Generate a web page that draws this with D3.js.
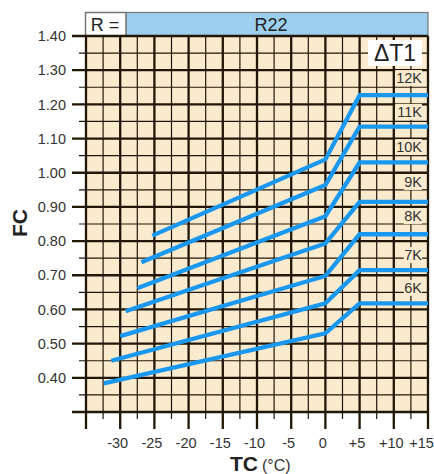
<!DOCTYPE html>
<html>
<head>
<meta charset="utf-8">
<script src="https://cdn.jsdelivr.net/npm/d3@7"></script>
<style>
body { margin: 0; background: #fff; }
text { font-family: "Liberation Sans", Arial, sans-serif; fill: #333; }
</style>
</head>
<body>
<script>
var w = 434, h = 474;

// data
var refrigerant = "R22";
var dtLabels = ["12K", "11K", "10K", "9K", "8K", "7K", "6K"];
var startTC = [-25.3, -26.9, -27.5, -29.2, -30.0, -31.3, -32.4];
var startFC = [0.816, 0.738, 0.662, 0.595, 0.522, 0.450, 0.384];
var zeroFC  = [1.039, 0.964, 0.873, 0.793, 0.698, 0.618, 0.530];
var plusFiveFC = [1.227, 1.135, 1.030, 0.915, 0.820, 0.715, 0.618];
var xTicks = [-30, -25, -20, -15, -10, -5, 0, 5, 10, 15];
var yTicks = [0.40, 0.50, 0.60, 0.70, 0.80, 0.90, 1.00, 1.10, 1.20, 1.30, 1.40];
// label centres (FC) for the dT1 tags
var labelFC = [1.277, 1.178, 1.075, 0.973, 0.873, 0.759, 0.663];

var x = d3.scaleLinear().domain([-35, 15]).range([86, 428]);
var y = d3.scaleLinear().domain([0.30, 1.40]).range([412, 36]);

var svg = d3.select("body").append("svg")
    .attr("width", w)
    .attr("height", h);

// header
svg.append("rect").attr("x", 126).attr("y", 12.5).attr("width", 302).attr("height", 23.5)
    .attr("fill", "#9dcfee").attr("stroke", "#777").attr("stroke-width", 1.2);
svg.append("rect").attr("x", 85.5).attr("y", 12.5).attr("width", 40.5).attr("height", 23.5)
    .attr("fill", "#fff").attr("stroke", "#777").attr("stroke-width", 1.5);
svg.append("text").attr("x", 105).attr("y", 31).attr("text-anchor", "middle")
    .style("font-size", "18px").style("fill", "#222").text("R =");
svg.append("text").attr("x", 271).attr("y", 31).attr("text-anchor", "middle")
    .style("font-size", "18px").style("fill", "#222").text(refrigerant);

// plot background
svg.append("rect").attr("x", x(-35)).attr("y", y(1.40))
    .attr("width", x(15) - x(-35)).attr("height", y(0.30) - y(1.40))
    .attr("fill", "#faebcf");

var grid = svg.append("g").attr("stroke", "#221606");
var minorX = d3.range(-32.5, 15, 5);
var minorY = d3.range(0.35, 1.40, 0.1);
var majorX = d3.range(-35, 15.1, 5);
var majorY = d3.range(0.30, 1.401, 0.1);

grid.selectAll(".mx").data(minorX).enter().append("line")
    .attr("x1", d => x(d)).attr("x2", d => x(d))
    .attr("y1", y(1.40)).attr("y2", y(0.30) + 7)
    .attr("stroke-width", 1.2);
grid.selectAll(".my").data(minorY).enter().append("line")
    .attr("y1", d => y(d)).attr("y2", d => y(d))
    .attr("x1", x(-35) - 7).attr("x2", x(15))
    .attr("stroke-width", 1.2);
grid.selectAll(".Mx").data(majorX).enter().append("line")
    .attr("x1", d => x(d)).attr("x2", d => x(d))
    .attr("y1", y(1.40)).attr("y2", y(0.30) + 17)
    .attr("stroke-width", 2.3);
grid.selectAll(".My").data(majorY).enter().append("line")
    .attr("y1", d => y(d)).attr("y2", d => y(d))
    .attr("x1", x(-35) - 14).attr("x2", x(15))
    .attr("stroke-width", 2.3);

// axes (labels only)
var yAxis = svg.append("g").attr("transform", "translate(" + (x(-35) - 17) + ",0)")
    .call(d3.axisLeft(y).tickValues(yTicks).tickSize(0).tickFormat(d3.format(".2f")));
var xAxis = svg.append("g").attr("transform", "translate(0," + (y(0.30) + 23) + ")")
    .call(d3.axisBottom(x).tickValues(xTicks).tickSize(0)
        .tickFormat(d => d > 0 ? "+" + d : String(d)));
[yAxis, xAxis].forEach(function(a) {
    a.select(".domain").remove();
    a.selectAll("text").attr("fill", "#333")
        .style("font-size", "14.5px").style("font-family", "'Liberation Sans', Arial, sans-serif");
});
xAxis.selectAll("text").attr("dx", d => d === 15 ? -7 : -3);

// dT1 box and labels
svg.append("rect").attr("x", 368).attr("y", 40).attr("width", 54).attr("height", 26).attr("fill", "#fff");
svg.append("text").attr("x", 395).attr("y", 61).attr("text-anchor", "middle")
    .style("font-size", "23px").style("fill", "#222").text("\u0394T1");
var tags = svg.append("g").selectAll("g").data(dtLabels).enter().append("g")
    .attr("transform", (d, i) => "translate(422," + y(labelFC[i]) + ")");
tags.append("rect")
    .attr("x", d => -d.length * 8.6 - 1).attr("y", -8)
    .attr("width", d => d.length * 8.6 + 1).attr("height", 16)
    .attr("fill", "#faebcf");
tags.append("text")
    .attr("y", 5)
    .attr("text-anchor", "end")
    .style("font-size", "14.5px")
    .text(d => d);

// curves
var line = d3.line().x(d => x(d[0])).y(d => y(d[1]));
var curves = dtLabels.map(function(k, i) {
    return [[startTC[i], startFC[i]], [0, zeroFC[i]], [5, plusFiveFC[i]], [15, plusFiveFC[i]]];
});
svg.append("g").selectAll("path").data(curves).enter().append("path")
    .attr("d", line)
    .attr("fill", "none")
    .attr("stroke", "#1a98f0")
    .attr("stroke-width", 4.3)
    .attr("stroke-linejoin", "miter");

// axis titles
svg.append("text").attr("transform", "translate(27,223) rotate(-90)")
    .attr("text-anchor", "middle")
    .style("font-size", "21px").style("font-weight", "bold").style("fill", "#222").text("FC");
var tc = svg.append("text").attr("x", 230).attr("y", 471);
tc.append("tspan").style("font-size", "21px").style("font-weight", "bold").style("fill", "#222").text("TC");
tc.append("tspan").attr("dx", 4).style("font-size", "16px").text("(\u00B0C)");
</script>
</body>
</html>
